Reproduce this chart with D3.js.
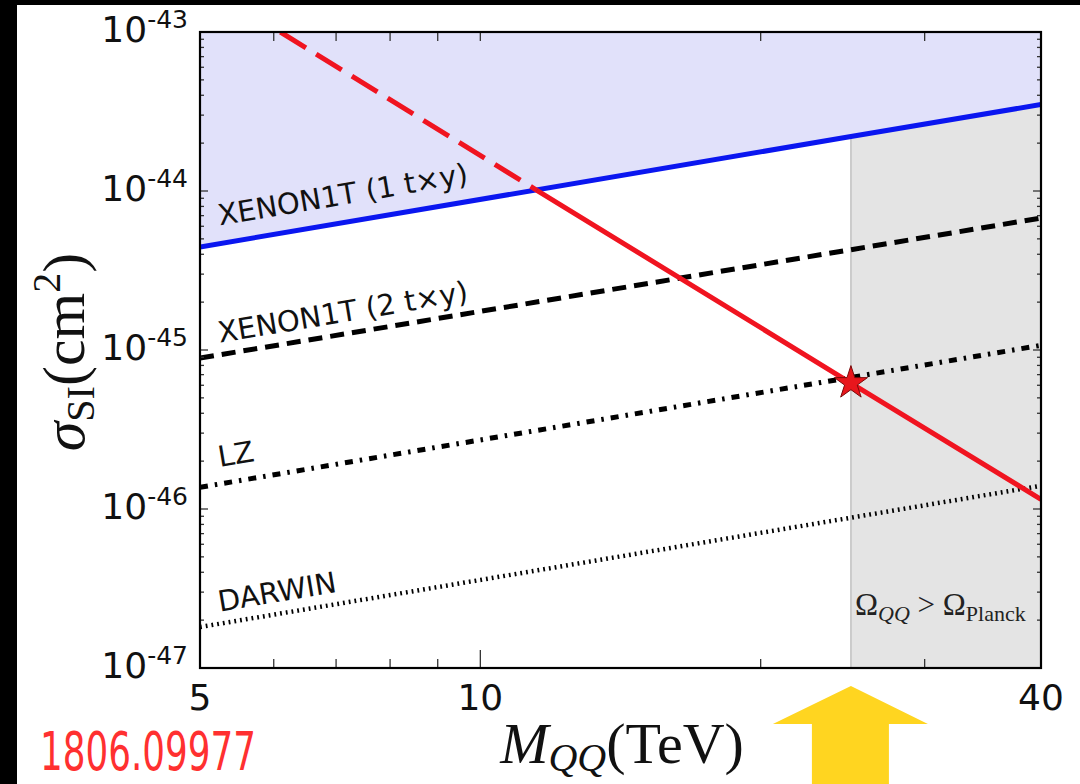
<!DOCTYPE html>
<html>
<head>
<meta charset="utf-8">
<script src="https://cdn.jsdelivr.net/npm/d3@7"></script>
<style>
  html, body { margin: 0; padding: 0; background: #fff; }
  svg { display: block; }
</style>
</head>
<body>
<script>
// Spin-independent WIMP-nucleon cross section vs. QQ bound-state mass (log-log)
const massDomain = [5, 40];            // TeV
const sigmaDomain = [1e-47, 1e-43];    // cm^2

const xenon1tMass  = [5, 25, 40];
const xenon1tSigma = [4.45e-45, 2.2e-44, 3.5e-44];
const xenon2tMass  = [5, 40];
const xenon2tSigma = [8.9e-46, 6.76e-45];
const lzMass       = [5, 40];
const lzSigma      = [1.37e-46, 1.07e-45];
const darwinMass   = [5, 40];
const darwinSigma  = [1.81e-47, 1.40e-46];

// predicted cross section: excluded part (dashed) and allowed part (solid)
const predExclMass  = [6.1, 11.5];
const predExclSigma = [1e-43, 1.01e-44];
const predMass      = [11.5, 25, 40];
const predSigma     = [1.01e-44, 6.2e-46, 1.15e-46];

const benchmarkMass  = [25];
const benchmarkSigma = [6.2e-46];

const overclosureMass = [25, 40];      // Ω_QQ > Ω_Planck region

const xTickLabels   = [5, 10, 40];
const xMajorTicks   = [10];
const xMinorTicks   = [6, 7, 8, 9, 20, 30];
const yDecades      = [-47, -46, -45, -44, -43];
const seriesLabels  = ["XENON1T (1 t×y)", "XENON1T (2 t×y)", "LZ", "DARWIN"];
const sourceTag     = "1806.09977";

const W = 1080, H = 784;
const plot = { left: 200, right: 1041, top: 32, bottom: 668 };

const svg = d3.select("body").append("svg")
  .attr("width", W).attr("height", H)
  .attr("viewBox", `0 0 ${W} ${H}`);

// frame edges
svg.append("rect").attr("x", 0).attr("y", 0).attr("width", W).attr("height", H).attr("fill", "#fff");
svg.append("rect").attr("x", 0).attr("y", 0).attr("width", W).attr("height", 5).attr("fill", "#000");
svg.append("rect").attr("x", 0).attr("y", 0).attr("width", 17).attr("height", H).attr("fill", "#000");

const x = d3.scaleLog().domain(massDomain).range([plot.left, plot.right]);
const y = d3.scaleLog().domain(sigmaDomain).range([plot.bottom, plot.top]);

const zip = (ms, ss) => ms.map((m, i) => ({ m, s: ss[i] }));
const line = d3.line().x(d => x(d.m)).y(d => y(d.s));

svg.append("defs").append("clipPath").attr("id", "plotClip")
  .append("rect")
  .attr("x", plot.left).attr("y", plot.top)
  .attr("width", plot.right - plot.left).attr("height", plot.bottom - plot.top);

const g = svg.append("g").attr("clip-path", "url(#plotClip)");

const xenon1t = zip(xenon1tMass, xenon1tSigma);

// excluded region above XENON1T (1 t×y)
g.append("path")
  .datum(xenon1t)
  .attr("d", d3.area().x(d => x(d.m)).y0(y(sigmaDomain[1])).y1(d => y(d.s)))
  .attr("fill", "#e1e1fa");

// overclosure region between the XENON1T limit and the bottom
const logInterp = (ms, ss, m) => {
  const i = Math.max(0, d3.bisectRight(ms, m) - 1);
  const j = Math.min(ms.length - 1, i + 1);
  if (i === j) return ss[i];
  const t = Math.log(m / ms[i]) / Math.log(ms[j] / ms[i]);
  return Math.exp(Math.log(ss[i]) + t * Math.log(ss[j] / ss[i]));
};
const overclosure = overclosureMass.map(m => ({ m, s: logInterp(xenon1tMass, xenon1tSigma, m) }));
g.append("path")
  .datum(overclosure)
  .attr("d", d3.area().x(d => x(d.m)).y0(y(sigmaDomain[0])).y1(d => y(d.s)))
  .attr("fill", "#e4e4e4");
g.append("line")
  .attr("x1", x(overclosureMass[0])).attr("x2", x(overclosureMass[0]))
  .attr("y1", y(overclosure[0].s)).attr("y2", y(sigmaDomain[0]))
  .attr("stroke", "#b4b4b4").attr("stroke-width", 1.2);

// sensitivity curves
g.append("path").datum(zip(darwinMass, darwinSigma)).attr("d", line)
  .attr("fill", "none").attr("stroke", "#000").attr("stroke-width", 4.5)
  .attr("stroke-dasharray", "1.8,4");
g.append("path").datum(zip(lzMass, lzSigma)).attr("d", line)
  .attr("fill", "none").attr("stroke", "#000").attr("stroke-width", 5)
  .attr("stroke-dasharray", "8,7,2.5,7");
g.append("path").datum(zip(xenon2tMass, xenon2tSigma)).attr("d", line)
  .attr("fill", "none").attr("stroke", "#000").attr("stroke-width", 5)
  .attr("stroke-dasharray", "14,8");
g.append("path").datum(xenon1t).attr("d", line)
  .attr("fill", "none").attr("stroke", "#0a16f0").attr("stroke-width", 5);

// predicted cross section
g.append("path").datum(zip(predExclMass, predExclSigma)).attr("d", line)
  .attr("fill", "none").attr("stroke", "#f01420").attr("stroke-width", 5)
  .attr("stroke-dasharray", "30,12");
g.append("path").datum(zip(predMass, predSigma)).attr("d", line)
  .attr("fill", "none").attr("stroke", "#f01420").attr("stroke-width", 5);

// benchmark point
g.selectAll(".bench").data(zip(benchmarkMass, benchmarkSigma)).join("path")
  .attr("class", "bench")
  .attr("transform", d => `translate(${x(d.m)},${y(d.s)})`)
  .attr("d", d3.symbol(d3.symbolStar).size(340))
  .attr("fill", "#e8161c").attr("stroke", "#7a0a0a").attr("stroke-width", 1);

// curve labels, aligned with their curves
const labelled = [
  { text: seriesLabels[0], ms: xenon1tMass, ss: xenon1tSigma, off: 18 },
  { text: seriesLabels[1], ms: xenon2tMass, ss: xenon2tSigma, off: 12 },
  { text: seriesLabels[2], ms: lzMass, ss: lzSigma, off: 17 },
  { text: seriesLabels[3], ms: darwinMass, ss: darwinSigma, off: 12 }
];
const labelMass = 5.25;
labelled.forEach(L => {
  const n = L.ms.length - 1;
  const ang = Math.atan2(y(L.ss[n]) - y(L.ss[0]), x(L.ms[n]) - x(L.ms[0])) * 180 / Math.PI;
  const px = x(labelMass), py = y(logInterp(L.ms, L.ss, labelMass)) - L.off;
  svg.append("text")
    .attr("transform", `translate(${px},${py}) rotate(${ang})`)
    .attr("font-family", "DejaVu Sans, sans-serif")
    .attr("font-size", 29)
    .attr("fill", "#111")
    .text(L.text);
});

// region label
const omega = svg.append("text")
  .attr("x", 855).attr("y", 615)
  .attr("font-family", "Liberation Serif, serif")
  .attr("font-size", 31).attr("fill", "#222");
omega.append("tspan").text("Ω");
omega.append("tspan").attr("font-size", 22).attr("font-style", "italic").attr("dy", 6).text("QQ");
omega.append("tspan").attr("dy", -6).text(" > Ω");
omega.append("tspan").attr("font-size", 22).attr("dy", 6).text("Planck");

// ticks (inward, all four sides)
const tickCol = "#333";
function xTicks(vals, len) {
  vals.forEach(v => {
    svg.append("line").attr("x1", x(v)).attr("x2", x(v))
      .attr("y1", plot.bottom).attr("y2", plot.bottom - len)
      .attr("stroke", tickCol).attr("stroke-width", 1.3);
    svg.append("line").attr("x1", x(v)).attr("x2", x(v))
      .attr("y1", plot.top).attr("y2", plot.top + Math.min(len, 9))
      .attr("stroke", tickCol).attr("stroke-width", 1.3);
  });
}
xTicks(xMajorTicks, 18);
xTicks(xMinorTicks, 9);

const yMinor = [];
yDecades.slice(0, -1).forEach(e => d3.range(2, 10).forEach(k => yMinor.push(k * Math.pow(10, e))));
function yTicks(vals, len) {
  vals.forEach(v => {
    svg.append("line").attr("x1", plot.left).attr("x2", plot.left + len)
      .attr("y1", y(v)).attr("y2", y(v)).attr("stroke", tickCol).attr("stroke-width", 1.3);
    svg.append("line").attr("x1", plot.right).attr("x2", plot.right - len)
      .attr("y1", y(v)).attr("y2", y(v)).attr("stroke", tickCol).attr("stroke-width", 1.3);
  });
}
yTicks(yDecades.map(e => Math.pow(10, e)), 8);
yTicks(yMinor, 4);

// spines
svg.append("rect")
  .attr("x", plot.left).attr("y", plot.top)
  .attr("width", plot.right - plot.left).attr("height", plot.bottom - plot.top)
  .attr("fill", "none").attr("stroke", "#000").attr("stroke-width", 2.2);

// tick labels
svg.selectAll(".xlab").data(xTickLabels).join("text")
  .attr("class", "xlab")
  .attr("x", d => x(d)).attr("y", 710)
  .attr("text-anchor", "middle")
  .attr("font-family", "DejaVu Sans, sans-serif")
  .attr("font-size", 36).attr("fill", "#111")
  .text(d => d);

yDecades.forEach(e => {
  const t = svg.append("text")
    .attr("x", 188).attr("y", y(Math.pow(10, e)) + 10)
    .attr("text-anchor", "end")
    .attr("font-family", "DejaVu Sans, sans-serif")
    .attr("fill", "#111");
  t.append("tspan").attr("font-size", 36).text("10");
  t.append("tspan").attr("font-size", 25).attr("dy", -14).text(String(e));
});

// axis titles
const ytitle = svg.append("text")
  .attr("transform", "translate(84,352) rotate(-90)")
  .attr("text-anchor", "middle")
  .attr("font-family", "Liberation Serif, serif")
  .attr("font-size", 60).attr("fill", "#111");
ytitle.append("tspan").attr("font-style", "italic").text("σ");
ytitle.append("tspan").attr("font-size", 40).attr("dy", 10).text("SI");
ytitle.append("tspan").attr("dy", -10).text("(cm");
ytitle.append("tspan").attr("font-size", 40).attr("dy", -24).text("2");
ytitle.append("tspan").attr("dy", 24).text(")");

const xtitle = svg.append("text")
  .attr("x", 622).attr("y", 763)
  .attr("text-anchor", "middle")
  .attr("font-family", "Liberation Serif, serif")
  .attr("font-size", 58).attr("fill", "#111");
xtitle.append("tspan").attr("font-style", "italic").text("M");
xtitle.append("tspan").attr("font-style", "italic").attr("font-size", 40).attr("dy", 8).text("QQ");
xtitle.append("tspan").attr("dy", -8).text("(TeV)");

// pointer to the overclosure boundary
const tipX = x(overclosureMass[0]);
const arrow = [
  [tipX, 686], [tipX + 77, 724], [tipX + 38, 724], [tipX + 38, H],
  [tipX - 39, H], [tipX - 39, 724], [tipX - 78, 724]
];
svg.append("path").attr("d", d3.line()(arrow) + "Z").attr("fill", "#ffd520");

// reference tag, condensed horizontally to its printed width
const tag = svg.append("text")
  .attr("font-family", "Liberation Sans Narrow, DejaVu Sans Condensed, sans-serif")
  .attr("font-size", 54)
  .attr("fill", "#ff3030")
  .text(sourceTag);
const natural = tag.node().getComputedTextLength() || 216;
tag.attr("transform", `translate(40,770) scale(${216 / natural},1)`);
</script>
</body>
</html>
